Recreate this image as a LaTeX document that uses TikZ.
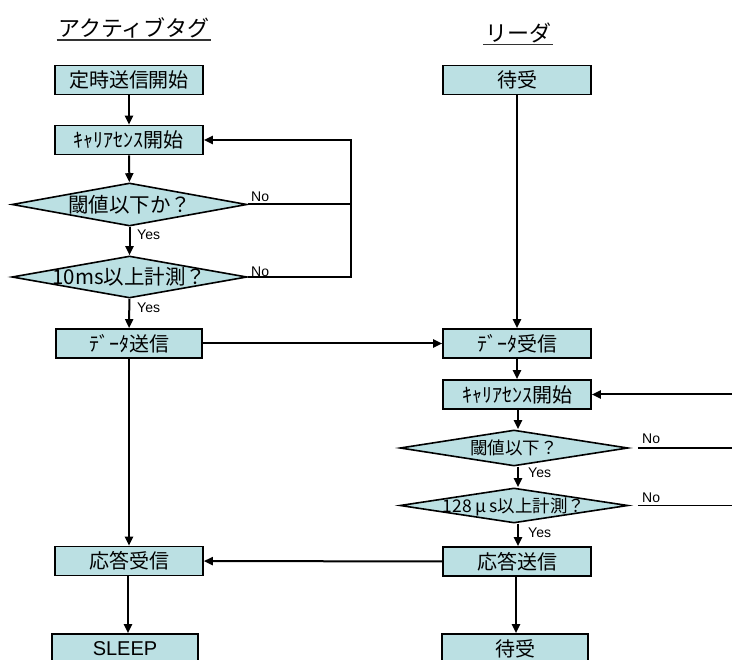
\documentclass[tikz,border=0pt]{standalone}
\usepackage{fontspec}
\setmainfont{Liberation Sans}
\newfontfamily\jp{Noto Sans CJK JP}
\usetikzlibrary{shapes.geometric,arrows.meta}
\definecolor{boxcyan}{RGB}{187,224,227}
% text of a decision, kept out of the node size
\newcommand\cdtext[1]{\makebox[0pt]{\raisebox{-0.38em}[0pt][0pt]{#1}}}

\begin{document}
\begin{tikzpicture}[x=1pt,y=-1pt]
  \tikzstyle{proc}=[rectangle,draw,fill=boxcyan,line width=1.6pt,minimum width=148pt,minimum height=29pt,inner sep=0pt,font=\fontsize{20}{22}\selectfont\jp]
  \tikzstyle{cond}=[diamond,draw,fill=boxcyan,line width=1.6pt,inner sep=0pt,minimum width=235pt,minimum height=43pt,font=\fontsize{20.5}{22}\selectfont\jp]
  \tikzstyle{flow}=[line width=2pt,-{Triangle[length=9pt,width=8pt]}]
  \tikzstyle{yesno}=[font=\fontsize{14}{16}\selectfont,inner sep=1pt,anchor=west]
  \tikzstyle{title}=[font=\fontsize{22}{24}\selectfont\jp,inner sep=1.5pt]
  \clip (0,0) rectangle (732,660);

  % titles
  \node[title] (tagT) at (134,28) {アクティブタグ};
  \node[title] (rdrT) at (518,33) {リーダ};
  \draw[line width=1.3pt,black!80] (tagT.south west) -- (tagT.south east);
  \draw[line width=1.3pt,black!80] (rdrT.south west) -- (rdrT.south east);

  % active tag
  \node[proc] (start) at (129,80) {定時送信開始};
  \node[proc] (csA) at (129,140) {ｷｬﾘｱｾﾝｽ開始};
  \node[cond] (thrA) at (129.5,204.5) {\cdtext{閾値以下か？}};
  \node[cond,minimum height=42pt] (cntA) at (129.5,277) {\cdtext{10ms以上計測？}};
  \node[proc,minimum width=146pt] (send) at (129,343.5) {ﾃﾞｰﾀ送信};
  \node[proc] (ackA) at (129,561) {応答受信};
  \node[proc,minimum width=146pt,minimum height=30pt] (sleep) at (125,649) {\rmfamily SLEEP};

  % reader
  \node[proc] (wait) at (517,80) {待受};
  \node[proc] (recv) at (517,343.5) {ﾃﾞｰﾀ受信};
  \node[proc] (csR) at (517,394.5) {ｷｬﾘｱｾﾝｽ開始};
  \node[cond,minimum width=228pt,minimum height=36pt,font=\fontsize{17.5}{20}\selectfont\jp] (thrR) at (514,448) {\cdtext{閾値以下？}};
  \node[cond,minimum width=228pt,minimum height=35pt,font=\fontsize{17.5}{20}\selectfont\jp] (cntR) at (514,505.5) {\cdtext{128\makebox[1em]{μ}s以上計測？}};
  \node[proc] (ackR) at (517,561.5) {応答送信};
  \node[proc,minimum width=146pt,minimum height=30pt] (wait2) at (515,649) {待受};

  \coordinate (loopA) at (351,0);
  \coordinate (edge) at (732,0);

  % labels
  \node[yesno] (yesA1) at (136,235) {Yes};
  \node[yesno] (yesA2) at (136,308) {Yes};
  \node[yesno] (noA1) at (250,196.5) {No};
  \node[yesno] (noA2) at (250,272) {No};
  \node[yesno] (yesR1) at (527,473) {Yes};
  \node[yesno] (yesR2) at (527,532.5) {Yes};
  \node[yesno] (noR1) at (641,439) {No};
  \node[yesno] (noR2) at (641,498) {No};

  % arrows
  \draw[flow] (start) -- (csA);
  \draw[flow] (csA) -- (thrA);
  \draw[flow] (thrA) -- (cntA);
  \draw[flow] (cntA) -- (send);
  \draw[flow] (send) -- (ackA);
  \draw[flow] (ackA.south -| 128,0) -- (sleep.north -| 128,0);
  \draw[line width=2pt] (thrA.east) -- (loopA |- thrA.east);
  \draw[flow] (cntA.east) -- (loopA |- cntA.east) -- (loopA |- csA.east) -- (csA.east);
  \draw[flow] (wait) -- (recv);
  \draw[flow] (send) -- (recv);
  \draw[flow] (recv) -- (csR);
  \draw[flow] (edge |- csR.east) -- (csR.east);
  \draw[flow] (csR.south -| 518,0) -- (thrR.north -| 518,0);
  \draw[flow] (thrR.south -| 518,0) -- (cntR.north -| 518,0);
  \draw[flow] (cntR.south -| 518,0) -- (ackR.north -| 518,0);
  \draw[flow] (ackR.south -| 516,0) -- (wait2.north -| 516,0);
  \draw[flow] (ackR) -- (ackA);
  \draw[line width=1.2pt] ([xshift=9pt]thrR.east) -- (edge |- thrR.east);
  \draw[line width=1.2pt] ([xshift=9pt]cntR.east) -- (edge |- cntR.east);
\end{tikzpicture}
\end{document}
